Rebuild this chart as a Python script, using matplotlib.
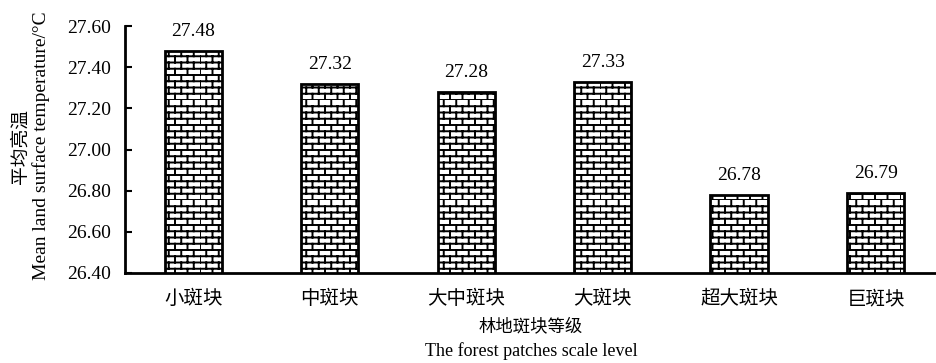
import warnings
import numpy as np
import matplotlib
matplotlib.use("Agg")
import matplotlib.pyplot as plt
import matplotlib.hatch as mhatch
from matplotlib.path import Path

warnings.filterwarnings("ignore")

# forest patch scale levels and mean land surface temperature
levels = ["小斑块", "中斑块", "大中斑块", "大斑块", "超大斑块", "巨斑块"]
temps = [27.48, 27.32, 27.28, 27.33, 26.78, 26.79]
yticks = [26.40, 26.60, 26.80, 27.00, 27.20, 27.40, 27.60]


class BrickHatch(mhatch.HatchPatternBase):
    """brick wall pattern, triggered by 'B' in the hatch string"""
    def __init__(self, hatch, density):
        n = hatch.count('B')
        self.rows = 16 if n else 0
        self.cols = 8
        # one horizontal line per row plus one vertical joint per brick
        self.num_vertices = (self.rows + self.rows * self.cols) * 2

    def set_vertices_and_codes(self, vertices, codes):
        i = 0
        r, c = self.rows, self.cols
        for k in range(r):
            y0 = k / r
            vertices[i] = (0, y0)
            vertices[i + 1] = (1, y0)
            i += 2
            off = 0.5 / c if k % 2 else 0.0
            for j in range(c):
                x = j / c + off
                vertices[i] = (x, y0)
                vertices[i + 1] = (x, y0 + 1 / r)
                i += 2
        codes[0::2] = Path.MOVETO
        codes[1::2] = Path.LINETO


mhatch._hatch_types.append(BrickHatch)

plt.rcParams['font.family'] = ['Liberation Serif', 'Noto Sans CJK SC']
plt.rcParams['hatch.linewidth'] = 1.4

fig = plt.figure(figsize=(9.37, 3.63), dpi=100)
ax = fig.add_axes([0.1334, 0.248, 0.8666, 0.680])

x = np.arange(len(levels))
bars = ax.bar(x, temps, width=0.42, color="white", edgecolor="black",
              linewidth=2, hatch="B")
ax.bar_label(bars, labels=["%.2f" % t for t in temps], padding=8, fontsize=14)

ax.set_ylim(26.40, 27.60)
ax.set_xlim(-0.5, 5.45)
ax.set_yticks(yticks)
ax.set_yticklabels(["%.2f" % t for t in yticks], fontsize=14)
ax.set_xticks(x)
ax.set_xticklabels(levels, fontsize=14, family=['Noto Sans CJK SC'])

for s in ["top", "right"]:
    ax.spines[s].set_visible(False)
for s in ["left", "bottom"]:
    ax.spines[s].set_linewidth(2)
ax.tick_params(axis="y", direction="in", length=5, width=1.5, pad=10)
ax.tick_params(axis="x", length=0, pad=11)

# two-line axis titles
ax.text(0.5, -0.215, "林地斑块等级", transform=ax.transAxes, ha="center",
        va="center", fontsize=12.5, family=['Noto Sans CJK SC'])
ax.text(0.5, -0.315, "The forest patches scale level", transform=ax.transAxes,
        ha="center", va="center", fontsize=13)
fig.text(0.022, 0.597, "平均亮温", rotation=90, ha="center", va="center",
         fontsize=13.5, family=['Noto Sans CJK SC'])
fig.text(0.044, 0.6, "Mean land surface temperature/°C", rotation=90,
         ha="center", va="center", fontsize=14)

fig.savefig("out.png", dpi=100)
